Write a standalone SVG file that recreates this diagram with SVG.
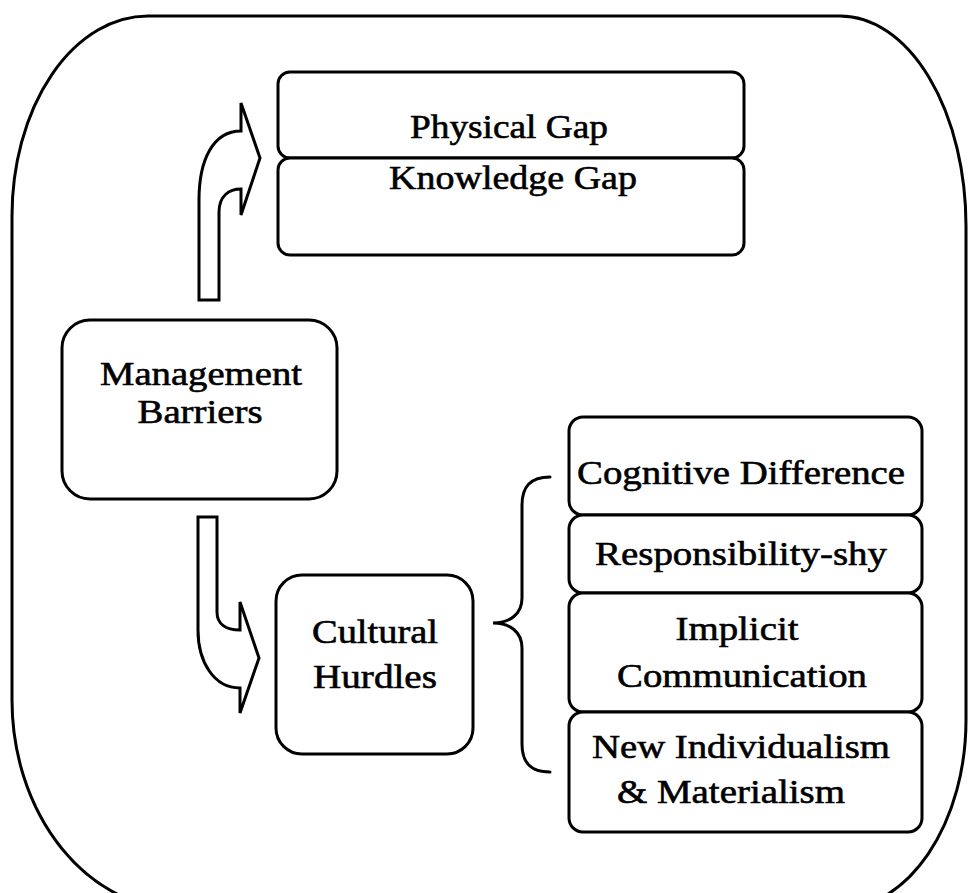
<svg xmlns="http://www.w3.org/2000/svg" width="968" height="893" viewBox="0 0 968 893">
<style>
.box{fill:#fff;stroke:#000;stroke-width:3}
.frame{fill:none;stroke:#000;stroke-width:3}
.arrow{fill:#fff;stroke:#000;stroke-width:3;stroke-linejoin:miter}
.brace{fill:none;stroke:#000;stroke-width:3;stroke-linecap:round}
text{font-family:"Liberation Serif","Times New Roman",serif;font-size:34px;fill:#000;stroke:#000;stroke-width:0.6;text-anchor:middle}
</style>
<rect width="968" height="893" fill="#fff"/>
<path id="frame" class="frame" d="M148 16 L840 16 A126 210 0 0 1 966 226 L966 720 A130 190 0 0 1 836 910 L182 910 A170 210 0 0 1 12 700 L12 216 A136 200 0 0 1 148 16 Z"/>
<g id="connectors">
<path class="arrow" d="M199 300 L199 200 C199 160 213 131 241 131 L241 103 L260 158 L241 215 L241 189 C229 189 219 196 219 212 L219 300 Z"/>
<path class="arrow" d="M198 517 L217 517 L217 612 C217 624 226 630 240 630 L240 602 L259 658 L240 713 L240 688 C214 688 198 662 198 630 Z"/>
<path class="brace" d="M550 477 C530 477 522 487 522 505 L522 598 C522 614 510 623 493 623 C510 623 522 632 522 648 L522 744 C522 762 530 772 550 772"/>
</g>
<g id="physical-gap">
<rect class="box" x="278" y="72" width="466" height="86" rx="12"/>
<text x="509" y="138" textLength="198" lengthAdjust="spacingAndGlyphs">Physical Gap</text>
</g>
<g id="knowledge-gap">
<rect class="box" x="278" y="158" width="466" height="97" rx="12"/>
<text x="513" y="189" textLength="248" lengthAdjust="spacingAndGlyphs">Knowledge Gap</text>
</g>
<g id="management-barriers">
<rect class="box" x="62" y="320" width="275" height="179" rx="28"/>
<text x="201" y="385" textLength="202" lengthAdjust="spacingAndGlyphs">Management</text>
<text x="200" y="423" textLength="125" lengthAdjust="spacingAndGlyphs">Barriers</text>
</g>
<g id="cultural-hurdles">
<rect class="box" x="276" y="575" width="197" height="179" rx="26"/>
<text x="375" y="643" textLength="126" lengthAdjust="spacingAndGlyphs">Cultural</text>
<text x="375" y="688" textLength="124" lengthAdjust="spacingAndGlyphs">Hurdles</text>
</g>
<g id="cognitive-difference">
<rect class="box" x="569" y="417" width="353" height="98" rx="14"/>
<text x="741" y="484" textLength="328" lengthAdjust="spacingAndGlyphs">Cognitive Difference</text>
</g>
<g id="responsibility-shy">
<rect class="box" x="569" y="515" width="353" height="78" rx="14"/>
<text x="741" y="565" textLength="292" lengthAdjust="spacingAndGlyphs">Responsibility-shy</text>
</g>
<g id="implicit-communication">
<rect class="box" x="569" y="593" width="353" height="119" rx="14"/>
<text x="737" y="640" textLength="123" lengthAdjust="spacingAndGlyphs">Implicit</text>
<text x="742" y="687" textLength="250" lengthAdjust="spacingAndGlyphs">Communication</text>
</g>
<g id="new-individualism">
<rect class="box" x="569" y="712" width="353" height="120" rx="14"/>
<text x="741" y="758" textLength="298" lengthAdjust="spacingAndGlyphs">New Individualism</text>
<text x="731" y="803" textLength="228" lengthAdjust="spacingAndGlyphs">&amp; Materialism</text>
</g>
</svg>
